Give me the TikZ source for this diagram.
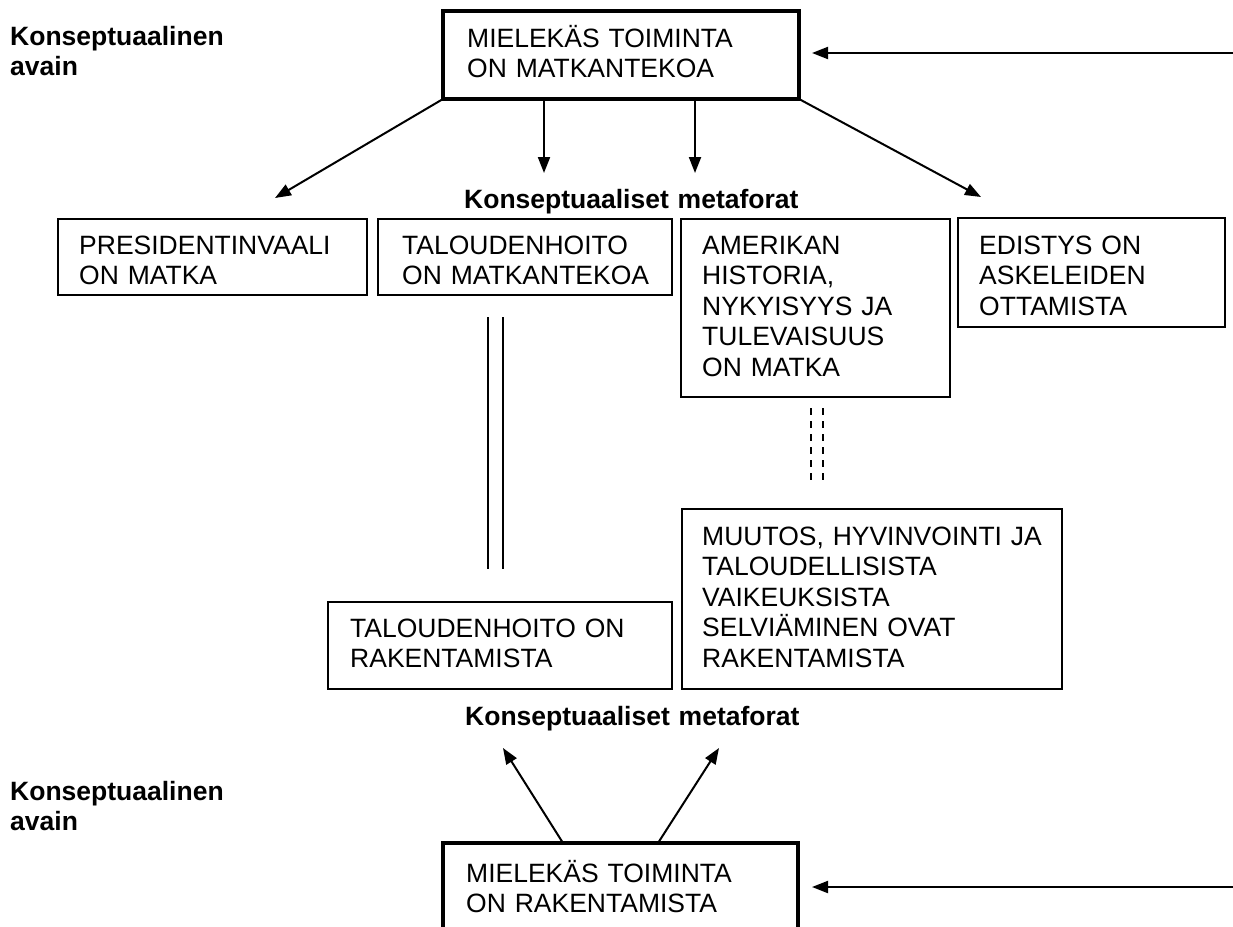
\documentclass[tikz,border=0pt]{standalone}
\usepackage{fontspec}
\setmainfont{Liberation Sans}
\usetikzlibrary{arrows.meta,calc}
\begin{document}
\begin{tikzpicture}[x=1pt,y=-1pt,
  every node/.style={font=\fontsize{26.5}{30.5}\selectfont},
  box/.style={draw, line width=1.3pt, rectangle, inner sep=0pt, outer sep=0pt, anchor=north west},
  keybox/.style={box, line width=3.5pt},
  txt/.style={anchor=base west, inner sep=0pt, align=left, text width=400pt},
  head/.style={txt, font=\fontsize{26.5}{30}\selectfont\bfseries},
  arr/.style={line width=2pt, -{Triangle[length=16pt,width=12pt]}},
  dl/.style={line width=1.3pt},
  dsh/.style={line width=1.3pt, dash pattern=on 7pt off 6pt}]
\useasboundingbox (0,0) rectangle (1233,926);
\clip (0,0) rectangle (1233,926);
\fill[white] (0,0) rectangle (1233,926);

% key boxes
\node[keybox, minimum width=356pt, minimum height=88pt] (mtop) at (443,11) {};
\node[keybox, minimum width=355pt, minimum height=88pt] (mbot) at (443,843) {};

% metaphor boxes
\node[box, minimum width=309pt, minimum height=76pt] (b1) at (58,219) {};
\node[box, minimum width=294pt, minimum height=76pt] (b2) at (378,219) {};
\node[box, minimum width=269pt, minimum height=178pt] (b3) at (681,219) {};
\node[box, minimum width=267pt, minimum height=109pt] (b4) at (958,218) {};
\node[box, minimum width=344pt, minimum height=87pt] (b5) at (328,602) {};
\node[box, minimum width=380pt, minimum height=180pt] (b6) at (682,509) {};

% texts
\node[txt] (mtopt) at (467,47) {MIELEKÄS TOIMINTA\\ON MATKANTEKOA};
\node[txt] (b1t) at (79,254) {PRESIDENTINVAALI\\ON MATKA};
\node[txt] (b2t) at (402,254) {TALOUDENHOITO\\ON MATKANTEKOA};
\node[txt] (b3t) at (702,254) {AMERIKAN\\HISTORIA,\\NYKYISYYS JA\\TULEVAISUUS\\ON MATKA};
\node[txt] (b4t) at (979,254) {EDISTYS ON\\ASKELEIDEN\\OTTAMISTA};
\node[txt] (b5t) at (350,637) {TALOUDENHOITO ON\\RAKENTAMISTA};
\node[txt] (b6t) at (702,545) {MUUTOS, HYVINVOINTI JA\\TALOUDELLISISTA\\VAIKEUKSISTA\\SELVIÄMINEN OVAT\\RAKENTAMISTA};
\node[txt] (mbott) at (466,882) {MIELEKÄS TOIMINTA\\ON RAKENTAMISTA};

% headings
\node[head] (h1) at (464,208) {Konseptuaaliset metaforat};
\node[head] (h2) at (465,725) {Konseptuaaliset metaforat};
\node[head] (k1) at (10,45) {Konseptuaalinen\\avain};
\node[head] (k2) at (10,800) {Konseptuaalinen\\avain};

% arrows from top key
\coordinate (rin1) at (1233,53);
\draw[arr, shorten >=13pt] (rin1) -- (rin1 -| mtop.east);
\coordinate (t1) at (275,198);
\coordinate (t2) at (544,173);
\coordinate (t3) at (695,173);
\coordinate (t4) at (981,197);
\draw[arr] (mtop.south west) -- (t1);
\draw[arr] (t2 |- mtop.south) -- (t2);
\draw[arr] (t3 |- mtop.south) -- (t3);
\draw[arr] (mtop.south east) -- (t4);

% arrows from bottom key
\coordinate (u1) at (503,748);
\coordinate (u2) at (719,748);
\draw[arr] ([xshift=-57.5pt]mbot.north) -- (u1);
\draw[arr] ([xshift=37.5pt]mbot.north) -- (u2);
\coordinate (rin2) at (1233,887);
\draw[arr, shorten >=14pt] (rin2) -- (rin2 -| mbot.east);

% double solid line
\draw[dl] ($(b2.south west)+(110,22)$) -- ($(b5.north west)+(160,-33)$);
\draw[dl] ($(b2.south west)+(125,22)$) -- ($(b5.north west)+(175,-33)$);
% double dashed line
\draw[dsh] ($(b3.south west)+(130,11)$) -- ($(b6.north west)+(129,-24)$);
\draw[dsh] ($(b3.south west)+(142,11)$) -- ($(b6.north west)+(141,-24)$);
\end{tikzpicture}
\end{document}
